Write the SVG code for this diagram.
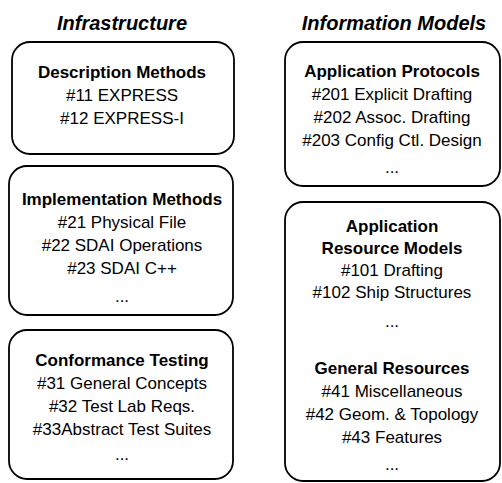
<svg xmlns="http://www.w3.org/2000/svg" width="502" height="483" viewBox="0 0 502 483">
<style>
.box{fill:#fff;stroke:#000;stroke-width:1.8}
text{font-family:"Liberation Sans",Arial,sans-serif;font-size:17px;fill:#000;text-anchor:middle}
.h{font-weight:bold}
.t{font-weight:bold;font-style:italic;font-size:20px}
</style>
<rect width="502" height="483" fill="#fff"/>
<g id="title-infrastructure"><text class="t" x="122" y="30">Infrastructure</text></g>
<g id="title-information-models"><text class="t" x="394" y="30">Information Models</text></g>
<g id="description-methods">
<rect class="box" x="12" y="42" width="222" height="112" rx="18"/>
<text class="h" x="122" y="78">Description Methods</text>
<text x="122" y="101">#11 EXPRESS</text>
<text x="122" y="124">#12 EXPRESS-I</text>
</g>
<g id="implementation-methods">
<rect class="box" x="9" y="166" width="224" height="149" rx="18"/>
<text class="h" x="122" y="205">Implementation Methods</text>
<text x="122" y="228">#21 Physical File</text>
<text x="122" y="251">#22 SDAI Operations</text>
<text x="122" y="274">#23 SDAI C++</text>
<text x="122" y="302">...</text>
</g>
<g id="conformance-testing">
<rect class="box" x="9" y="330" width="224" height="149" rx="18"/>
<text class="h" x="122" y="366">Conformance Testing</text>
<text x="122" y="389">#31 General Concepts</text>
<text x="122" y="412">#32 Test Lab Reqs.</text>
<text x="122" y="435">#33Abstract Test Suites</text>
<text x="122" y="460">...</text>
</g>
<g id="application-protocols">
<rect class="box" x="285" y="42" width="215" height="144" rx="18"/>
<text class="h" x="392" y="77">Application Protocols</text>
<text x="392" y="100">#201 Explicit Drafting</text>
<text x="392" y="123">#202 Assoc. Drafting</text>
<text x="392" y="146">#203 Config Ctl. Design</text>
<text x="392" y="173">...</text>
</g>
<g id="resource-models">
<rect class="box" x="285" y="202" width="215" height="279" rx="18"/>
<text class="h" x="392" y="232">Application</text>
<text class="h" x="392" y="254">Resource Models</text>
<text x="392" y="276">#101 Drafting</text>
<text x="392" y="298">#102 Ship Structures</text>
<text x="392" y="327">...</text>
<text class="h" x="392" y="374">General Resources</text>
<text x="392" y="397">#41 Miscellaneous</text>
<text x="392" y="420">#42 Geom. &amp; Topology</text>
<text x="392" y="443">#43 Features</text>
<text x="392" y="470">...</text>
</g>
<g id="connectors"/>
</svg>
